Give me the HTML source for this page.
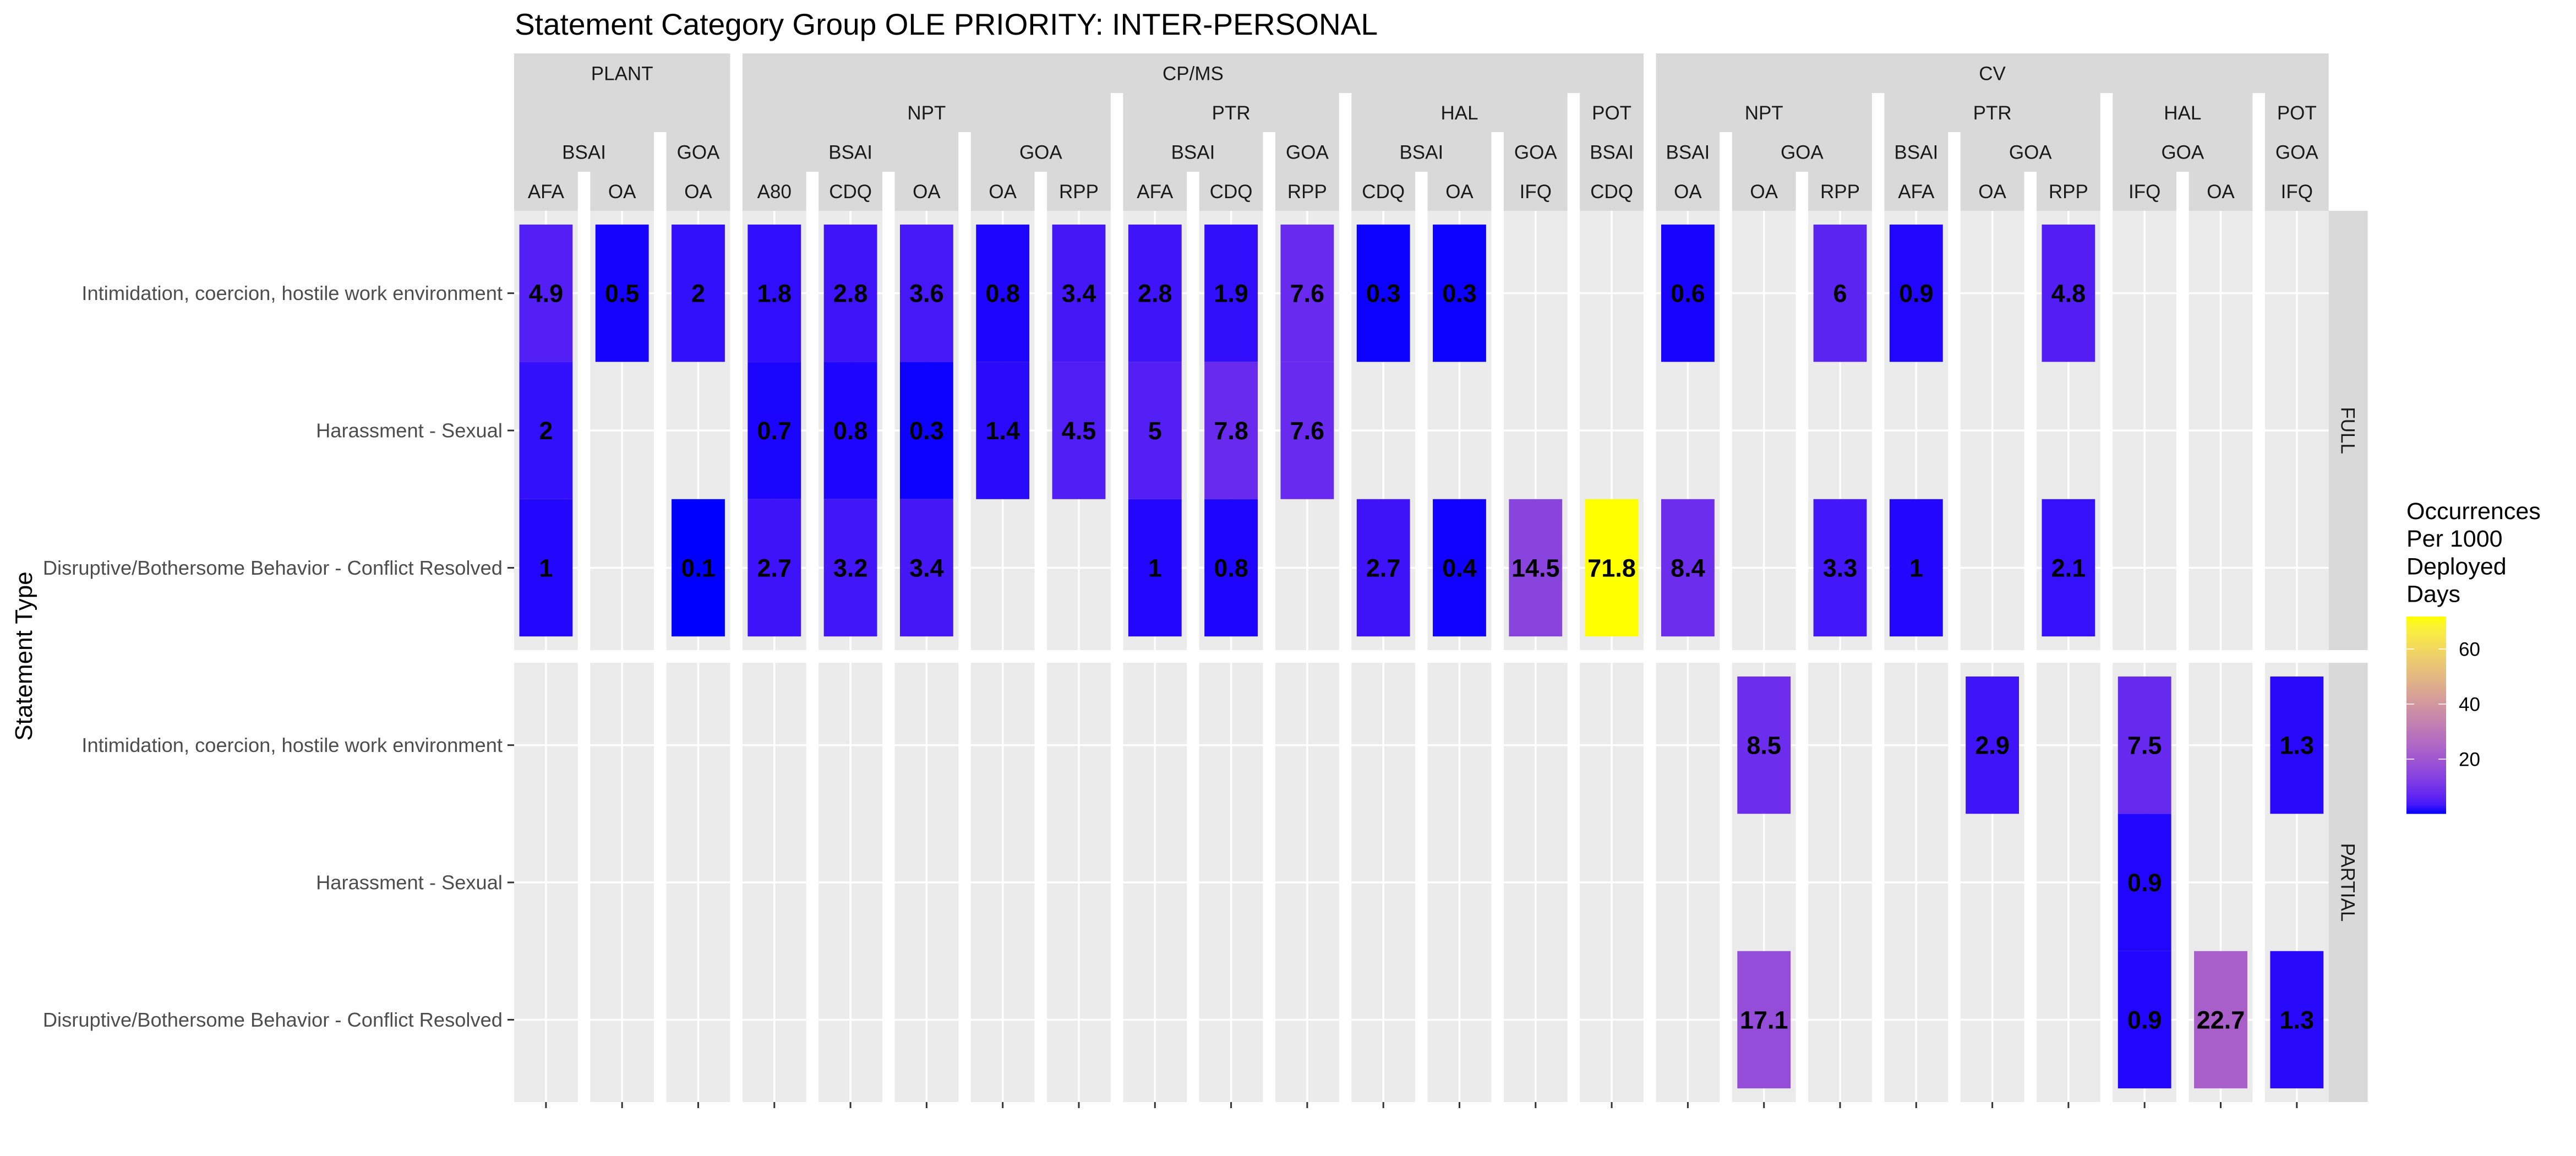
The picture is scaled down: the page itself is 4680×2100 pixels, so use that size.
<!DOCTYPE html>
<html><head><meta charset="utf-8"><style>
html,body{margin:0;padding:0;background:#fff;}
svg{display:block;font-family:"Liberation Sans",Arial,sans-serif;}
</style></head><body>
<svg id="chart" width="4680" height="2100" viewBox="0 0 4680 2100" xmlns="http://www.w3.org/2000/svg">
<text x="935" y="63" font-size="55" fill="#000">Statement Category Group OLE PRIORITY: INTER-PERSONAL</text>
<text transform="translate(58,1192) rotate(-90)" text-anchor="middle" font-size="44" fill="#000">Statement Type</text>
<g id="g"></g>
</svg>
<script>
// ---- data ----
const level1 = ["PLANT","PLANT","PLANT","CP/MS","CP/MS","CP/MS","CP/MS","CP/MS","CP/MS","CP/MS","CP/MS","CP/MS","CP/MS","CP/MS","CP/MS","CV","CV","CV","CV","CV","CV","CV","CV","CV"];
const level2 = ["","","","NPT","NPT","NPT","NPT","NPT","PTR","PTR","PTR","HAL","HAL","HAL","POT","NPT","NPT","NPT","PTR","PTR","PTR","HAL","HAL","POT"];
const level3 = ["BSAI","BSAI","GOA","BSAI","BSAI","BSAI","GOA","GOA","BSAI","BSAI","GOA","BSAI","BSAI","GOA","BSAI","BSAI","GOA","GOA","BSAI","GOA","GOA","GOA","GOA","GOA"];
const level4 = ["AFA","OA","OA","A80","CDQ","OA","OA","RPP","AFA","CDQ","RPP","CDQ","OA","IFQ","CDQ","OA","OA","RPP","AFA","OA","RPP","IFQ","OA","IFQ"];
const rowPanels = ["FULL","PARTIAL"];
const statementTypes = ["Intimidation, coercion, hostile work environment","Harassment - Sexual","Disruptive/Bothersome Behavior - Conflict Resolved"];
const N = null;
const fullIntimidation = [4.9,0.5,2,1.8,2.8,3.6,0.8,3.4,2.8,1.9,7.6,0.3,0.3,N,N,0.6,N,6,0.9,N,4.8,N,N,N];
const fullHarassment   = [2,N,N,0.7,0.8,0.3,1.4,4.5,5,7.8,7.6,N,N,N,N,N,N,N,N,N,N,N,N,N];
const fullDisruptive   = [1,N,0.1,2.7,3.2,3.4,N,N,1,0.8,N,2.7,0.4,14.5,71.8,8.4,N,3.3,1,N,2.1,N,N,N];
const partIntimidation = [N,N,N,N,N,N,N,N,N,N,N,N,N,N,N,N,8.5,N,N,2.9,N,7.5,N,1.3];
const partHarassment   = [N,N,N,N,N,N,N,N,N,N,N,N,N,N,N,N,N,N,N,N,N,0.9,N,N];
const partDisruptive   = [N,N,N,N,N,N,N,N,N,N,N,N,N,N,N,N,17.1,N,N,N,N,0.9,22.7,1.3];
const legendTicks = [20,40,60];

const series = [[fullIntimidation,fullHarassment,fullDisruptive],[partIntimidation,partHarassment,partDisruptive]];
const NS="http://www.w3.org/2000/svg";
const g=document.getElementById('g');
function el(tag,attrs,parent){const e=document.createElementNS(NS,tag);for(const k in attrs)e.setAttribute(k,attrs[k]);(parent||g).appendChild(e);return e;}

// layout
const L0=934, PITCH=138.3, PW=115.8, PANEL_TOP=[383,1204], PH=798, ROWU=249.4;
const px=i=>L0+i*PITCH;
const rowY=(p,r)=>PANEL_TOP[p]+ROWU*(0.6+r);
let all=[];series.forEach(s=>s.forEach(a=>a.forEach(v=>{if(v!=null)all.push(v);})));
const vmin=Math.min(...all), vmax=Math.max(...all);

// Lab color interpolation blue->yellow
function s2l(c){c/=255;return c<=0.04045?c/12.92:Math.pow((c+0.055)/1.055,2.4);}
function l2s(c){c=c<=0.0031308?12.92*c:1.055*Math.pow(c,1/2.4)-0.055;return Math.max(0,Math.min(255,Math.round(c*255)));}
function toLab(r,g_,b){r=s2l(r);g_=s2l(g_);b=s2l(b);let X=(0.4124*r+0.3576*g_+0.1805*b)/0.95047,Y=0.2126*r+0.7152*g_+0.0722*b,Z=(0.0193*r+0.1192*g_+0.9505*b)/1.08883;const f=t=>t>0.008856?Math.cbrt(t):7.787*t+16/116;const fx=f(X),fy=f(Y),fz=f(Z);return [116*fy-16,500*(fx-fy),200*(fy-fz)];}
function fromLab(L,a,b){const fy=(L+16)/116,fx=fy+a/500,fz=fy-b/200;const fi=t=>t*t*t>0.008856?t*t*t:(t-16/116)/7.787;const X=fi(fx)*0.95047,Y=fi(fy),Z=fi(fz)*1.08883;const r=3.2406*X-1.5372*Y-0.4986*Z,g_=-0.9689*X+1.8758*Y+0.0415*Z,bb=0.0557*X-0.2040*Y+1.0570*Z;return `rgb(${l2s(r)},${l2s(g_)},${l2s(bb)})`;}
const LB=toLab(0,0,255), LY=toLab(255,255,0);
function color(v){const t=Math.max(0,Math.min(1,(v-vmin)/(vmax-vmin)));return fromLab(LB[0]+t*(LY[0]-LB[0]),LB[1]+t*(LY[1]-LB[1]),LB[2]+t*(LY[2]-LB[2]));}

// strips
const LV=[97,169,240,312,383];
function groups(arr){const out=[];let s=0;for(let i=1;i<=arr.length;i++){if(i==arr.length||arr[i]!==arr[s]){out.push([s,i-1,arr[s]]);s=i;}}return out;}
function strip(a,b,y0,y1,label,ty,name){
  const r=el('rect',{x:px(a),y:y0,width:px(b)+PW-px(a),height:y1-y0,fill:'#D9D9D9'});
  
  
  if(label){const t=el('text',{x:(px(a)+px(b)+PW)/2,y:ty+12.5,'text-anchor':'middle','font-size':35,fill:'#1A1A1A'});t.textContent=label;
  
  }
}
groups(level1).forEach(([a,b,l])=>strip(a,b,LV[0],l==="PLANT"?LV[2]:LV[1],l,(LV[0]+LV[1])/2,'level1'));
const k2=i=>level1[i]+level2[i];
groups(level2.map((v,i)=>k2(i))).forEach(([a,b])=>{if(level2[a])strip(a,b,LV[1],LV[2],level2[a],(LV[1]+LV[2])/2,'level2');});
const k3=i=>k2(i)+level3[i];
groups(level3.map((v,i)=>k3(i))).forEach(([a,b])=>strip(a,b,LV[2],LV[3],level3[a],(LV[2]+LV[3])/2,'level3'));
level4.forEach((l,i)=>strip(i,i,LV[3],LV[4],l,(LV[3]+LV[4])/2,'level4'));

// panels
rowPanels.forEach((rp,p)=>{
  const y0=PANEL_TOP[p];
  level4.forEach((c,i)=>{
    const x=px(i);
    const bg=el('rect',{x:x,y:y0,width:PW,height:PH,fill:'#EBEBEB'});
    
    
    statementTypes.forEach((s,r)=>{el('line',{x1:x,x2:x+PW,y1:rowY(p,r),y2:rowY(p,r),stroke:'#fff','stroke-width':3.5});});
    el('line',{x1:x+PW/2,x2:x+PW/2,y1:y0,y2:y0+PH,stroke:'#fff','stroke-width':3.5});
  });
  const rs=el('rect',{x:px(23)+PW,y:y0,width:71,height:PH,fill:'#D9D9D9'});
  
  
  const cx=px(23)+PW+35.5, cy=y0+PH/2;
  const rt=el('text',{transform:`translate(${cx-12.5},${cy}) rotate(90)`,'text-anchor':'middle','font-size':35,fill:'#1A1A1A'});
  rt.textContent=rp;
  
  
  statementTypes.forEach((s,r)=>{
    const y=rowY(p,r);
    const t=el('text',{x:913,y:y+12.5,'text-anchor':'end','font-size':36.3,fill:'#4D4D4D'});
    t.textContent=s;
    
    
    el('line',{x1:922,x2:934,y1:y,y2:y,stroke:'#333','stroke-width':3});
  });
  series[p].forEach((arr,r)=>{
    arr.forEach((v,i)=>{
      if(v==null)return;
      const cy=rowY(p,r);
      const rc=el('rect',{x:px(i)+9.5,y:cy-ROWU/2,width:PW-19,height:ROWU,fill:color(v)});
      
      
      const t=el('text',{x:px(i)+PW/2,y:cy+16,'text-anchor':'middle','font-size':45,'font-weight':'bold',fill:'#000'});
      t.textContent=String(v);
      
      
    });
  });
});
level4.forEach((c,i)=>{el('line',{x1:px(i)+PW/2,x2:px(i)+PW/2,y1:2002,y2:2013,stroke:'#333','stroke-width':3});});

// legend
const lt=['Occurrences','Per 1000','Deployed','Days'];
lt.forEach((s,i)=>{const t=el('text',{x:4372,y:943+i*50.2,'font-size':43,fill:'#000'});t.textContent=s;
  
  });
const defs=el('defs',{});
const lg=el('linearGradient',{id:'lgr',x1:0,y1:1,x2:0,y2:0},defs);
for(let k=0;k<=20;k++){el('stop',{offset:k/20,'stop-color':color(vmin+(vmax-vmin)*k/20)},lg);}
const yLeg=v=>1179+(60-v)*5;
const bar=el('rect',{x:4372,y:yLeg(vmax),width:72,height:yLeg(vmin)-yLeg(vmax),fill:'url(#lgr)'});


legendTicks.forEach(v=>{
  const y=yLeg(v);
  el('line',{x1:4372,x2:4386,y1:y,y2:y,stroke:'#fff','stroke-width':1.5});
  el('line',{x1:4430,x2:4444,y1:y,y2:y,stroke:'#fff','stroke-width':1.5});
  const t=el('text',{x:4467,y:y+12.5,'font-size':35,fill:'#000'});t.textContent=String(v);
  
  
});
</script>
</body></html>
